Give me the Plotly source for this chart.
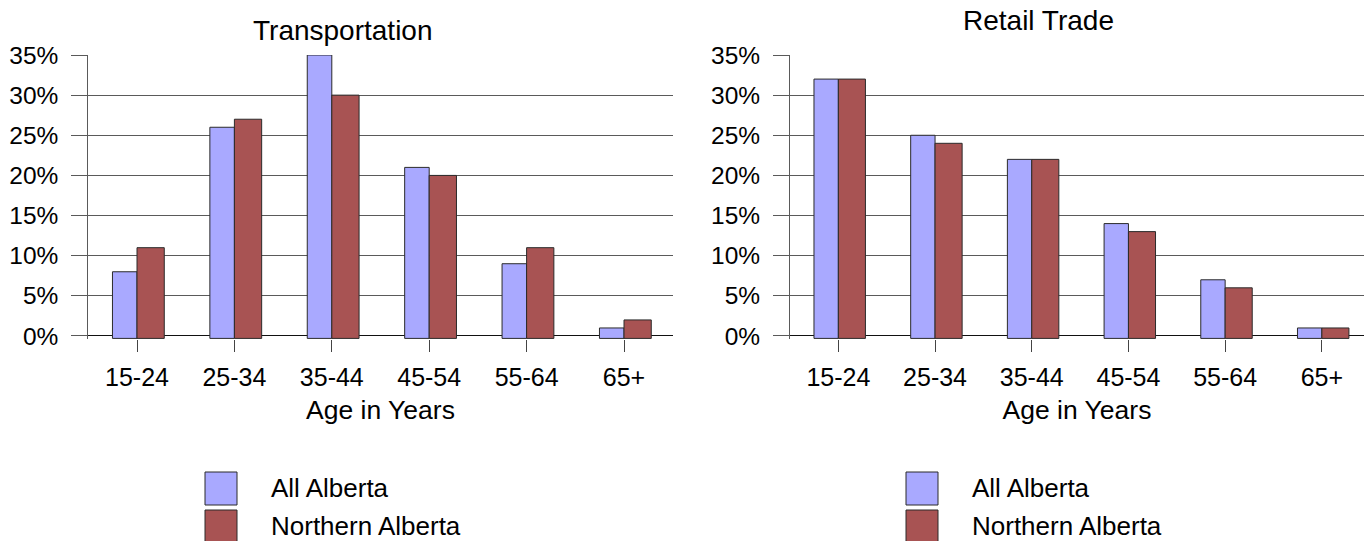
import plotly.graph_objects as go

# Age groups and shares of employed workers (%) by industry
age_groups = ["15-24", "25-34", "35-44", "45-54", "55-64", "65+"]
series_names = ["All Alberta", "Northern Alberta"]
panel_titles = ["Transportation", "Retail Trade"]
x_title = "Age in Years"

transport_all = [8, 26, 35, 21, 9, 1]
transport_north = [11, 27, 30, 20, 11, 2]
retail_all = [32, 25, 22, 14, 7, 1]
retail_north = [32, 24, 22, 13, 6, 1]

y_ticks = [0, 5, 10, 15, 20, 25, 30, 35]
y_tick_text = [f"{v}%" for v in y_ticks]

colors = ["#A9A9FF", "#A85353"]
outline = "#2b2b2b"
grid = "#5a5a5a"
font_family = "Liberation Sans, Arial, sans-serif"

W, H = 1364, 541
bar_base = -0.3  # bars sit slightly below the zero line

fig = go.Figure()

panels = [
    (transport_all, transport_north, "x", "y"),
    (retail_all, retail_north, "x2", "y2"),
]
bar_geom = [(-0.252, 0.252), (0.0, 0.28)]  # (offset, width) per series

for vals_a, vals_b, xa, ya in panels:
    for i, vals in enumerate([vals_a, vals_b]):
        off, wid = bar_geom[i]
        fig.add_trace(go.Bar(
            x=age_groups,
            y=[v - bar_base for v in vals],
            base=bar_base,
            customdata=vals,
            hovertemplate="%{x}: %{customdata}%<extra>" + series_names[i] + "</extra>",
            name=series_names[i],
            offset=off,
            width=wid,
            marker=dict(color=colors[i], line=dict(color=outline, width=1)),
            xaxis=xa,
            yaxis=ya,
            showlegend=False,
        ))


def px_x(p):
    return p / W


def px_y(p):
    return (H - p) / H


y_domain = [px_y(339.2), px_y(55)]

common_x = dict(
    type="category",
    automargin=False,
    ticks="outside",
    ticklen=12,
    tickcolor="#444",
    tickwidth=1,
    ticklabelstandoff=4,
    showgrid=False,
    showline=False,
    zeroline=False,
    tickfont=dict(size=25, color="black", family=font_family),
    title=dict(text=x_title, font=dict(size=26.5, color="black", family=font_family), standoff=10),
    fixedrange=True,
)
common_y = dict(
    range=[-0.4, 35],
    domain=y_domain,
    automargin=False,
    tickvals=y_ticks,
    ticktext=y_tick_text,
    ticks="outside",
    ticklen=16,
    tickcolor=grid,
    tickwidth=1,
    showgrid=True,
    gridcolor=grid,
    gridwidth=1,
    showline=True,
    linecolor=grid,
    linewidth=1,
    zeroline=True,
    zerolinecolor="#111",
    zerolinewidth=1,
    ticklabelstandoff=8,
    tickfont=dict(size=24.5, color="black", family=font_family),
    fixedrange=True,
)

fig.update_layout(
    width=W,
    height=H,
    margin=dict(l=0, r=0, t=0, b=0, pad=0),
    paper_bgcolor="white",
    plot_bgcolor="white",
    barmode="overlay",
    showlegend=False,
    font=dict(family=font_family, color="black"),
    xaxis=dict(domain=[px_x(88.3), px_x(672.7)], range=[-0.5, 5.5], anchor="y", **common_x),
    yaxis=dict(anchor="x", **common_y),
    xaxis2=dict(domain=[px_x(790), 1.0], range=[-0.5, -0.5 + (W - 790) / 96.7], anchor="y2", **common_x),
    yaxis2=dict(anchor="x2", **common_y),
)

# Panel titles
title_pos = [(342.5, 30), (1038, 20)]
for t, (tx, ty) in zip(panel_titles, title_pos):
    fig.add_annotation(text=t, x=px_x(tx), y=px_y(ty), xref="paper", yref="paper",
                       xanchor="center", yanchor="middle", showarrow=False,
                       font=dict(size=28, color="black", family=font_family))

# Legends below each panel
legend_pos = [(205, 269), (906, 970)]
swatch_rows = [(472, 505), (510, 543)]
for sx, tx in legend_pos:
    for i, name in enumerate(series_names):
        top, bot = swatch_rows[i]
        fig.add_shape(type="rect", xref="paper", yref="paper",
                      x0=px_x(sx), x1=px_x(sx + 32), y0=px_y(bot), y1=px_y(top),
                      fillcolor=colors[i], line=dict(color=outline, width=1))
        fig.add_annotation(text=name, x=px_x(tx), y=px_y((top + bot) / 2 - 1),
                           xref="paper", yref="paper", xanchor="left", yanchor="middle",
                           showarrow=False,
                           font=dict(size=26, color="black", family=font_family))

fig.write_html("out.html")
